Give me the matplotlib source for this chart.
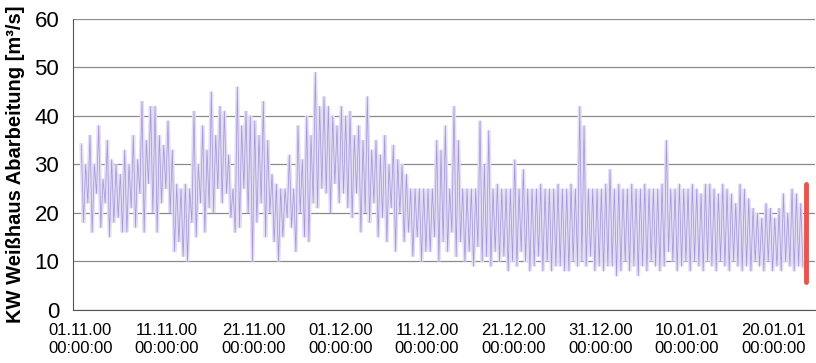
import numpy as np
import pandas as pd
import matplotlib
matplotlib.use("Agg")
import matplotlib.pyplot as plt
import matplotlib.dates as mdates

plt.rcParams['font.family'] = ['Liberation Sans', 'DejaVu Sans']

# Abfluss, vier Werte je Tag (hoch, tief, hoch, tief) ab 01.11.2000
flow_nov_a = [34, 18, 30, 22, 36, 16, 30, 24, 38, 17, 27, 22, 35, 15, 31, 18, 30, 19, 28, 16,
              33, 16, 30, 21, 36, 17, 31, 24, 43, 16, 35, 26, 42, 20, 42, 16, 36, 22, 34, 25]
flow_nov_b = [39, 20, 33, 12, 26, 14, 25, 11, 26, 10, 25, 18, 41, 15, 30, 22, 38, 16, 33, 21,
              45, 20, 36, 25, 42, 22, 41, 24, 32, 19, 25, 16, 46, 17, 38, 25, 41, 20, 40, 10]
flow_nov_c = [39, 18, 36, 22, 43, 15, 35, 20, 28, 14, 26, 10, 25, 15, 25, 19, 32, 17, 25, 12,
              38, 20, 31, 15, 40, 14, 36, 22, 49, 21, 42, 25, 44, 24, 42, 20, 40, 26, 38, 22]
flow_dec_a = [42, 24, 40, 21, 41, 19, 36, 24, 38, 16, 35, 20, 44, 18, 33, 22, 35, 15, 32, 19,
              36, 14, 30, 21, 34, 12, 31, 20, 30, 14, 28, 16, 25, 11, 25, 15, 25, 10, 25, 12]
flow_dec_b = [25, 12, 25, 15, 35, 10, 33, 14, 38, 12, 25, 16, 42, 11, 35, 14, 25, 10, 25, 12,
              25, 9, 25, 13, 39, 10, 30, 11, 37, 9, 25, 12, 26, 10, 25, 11, 25, 8, 25, 10]
flow_dec_c = [31, 9, 25, 12, 29, 10, 25, 8, 25, 9, 25, 11, 26, 8, 25, 10, 25, 8, 25, 9,
              26, 9, 25, 8, 25, 8, 26, 10, 25, 9, 42, 10, 38, 9, 25, 11, 25, 8, 25, 9]
flow_jan_a = [25, 8, 26, 9, 29, 9, 25, 7, 26, 8, 25, 10, 25, 8, 26, 9, 25, 7, 25, 9,
              26, 8, 25, 10, 25, 9, 25, 8, 26, 9, 35, 12, 25, 10, 25, 8, 26, 9, 25, 10]
flow_jan_b = [25, 8, 26, 10, 25, 9, 24, 8, 26, 10, 26, 9, 25, 8, 24, 10, 26, 9, 25, 8,
              24, 10, 22, 9, 26, 8, 25, 9, 23, 8, 21, 10, 20, 9, 19, 8, 22, 10, 21, 8]
flow_jan_c = [19, 9, 21, 8, 24, 10, 20, 9, 25, 8, 24, 9, 22, 9]

flow = flow_nov_a + flow_nov_b + flow_nov_c + flow_dec_a + flow_dec_b + flow_dec_c \
    + flow_jan_a + flow_jan_b + flow_jan_c
times = pd.date_range("2000-11-01 03:00", periods=len(flow), freq="6h")

tick_dates = pd.date_range("2000-11-01", "2001-01-20", freq="10D")
tick_labels = [d.strftime("%d.%m.%y") + "\n00:00:00" for d in tick_dates]

marker_date = pd.Timestamp("2001-01-23 18:00")
marker_range = [5.7, 26]

fig = plt.figure(figsize=(8.16, 3.63), dpi=100)
ax = fig.add_axes([0.0895, 0.146, 0.9095, 0.802])

# breite blasse Linie darunter -> flaechiger Eindruck wie im Original
ax.plot(times, flow, color="#e4def5", lw=2.8, solid_joinstyle="miter")
ax.plot(times, flow, color="#a698da", lw=0.55)
ax.vlines(marker_date, marker_range[0], marker_range[1], color="#e9544c", lw=3.5,
          capstyle="round")

ax.set_ylim(0, 60)
ax.set_yticks(range(0, 61, 10))
ax.set_xlim(pd.Timestamp("2000-10-31 04:00"), pd.Timestamp("2001-01-24 19:00"))
ax.set_xticks(tick_dates)
ax.set_xticklabels(tick_labels, linespacing=1.3)
ax.grid(axis="y", color="#8a8a8a", lw=0.9)
ax.set_axisbelow(True)
for s in ["top", "right"]:
    ax.spines[s].set_visible(False)
ax.spines["left"].set_color("#555555")
ax.spines["bottom"].set_color("#555555")
ax.tick_params(axis="y", labelsize=16, length=0, pad=10)
ax.tick_params(axis="x", labelsize=12, length=0, pad=9)
ax.set_ylabel("KW Weißhaus Abarbeitung [m³/s]", fontsize=14.5, fontweight="bold", labelpad=7)

fig.savefig("out.png", dpi=100)
